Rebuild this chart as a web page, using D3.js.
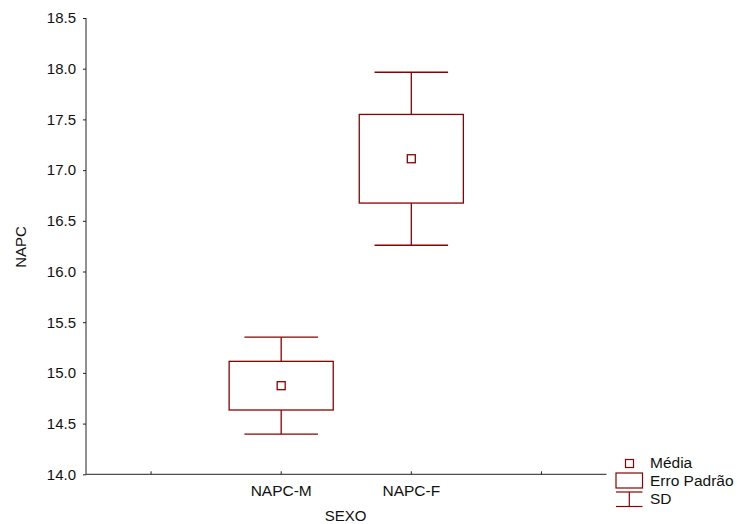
<!DOCTYPE html>
<html>
<head>
<meta charset="utf-8">
<script src="https://cdn.jsdelivr.net/npm/d3@7"></script>
<style>
  html, body { margin: 0; padding: 0; background: #fff; }
  svg { display: block; font-family: "Liberation Sans", Arial, sans-serif; }
</style>
</head>
<body>
<svg id="chart" width="737" height="524"></svg>
<script>
// ---- data ----
const slots = ["", "NAPC-M", "NAPC-F", " "];
const groups = ["NAPC-M", "NAPC-F"];
const means = [14.874, 17.112];
const stdErr = [0.24, 0.437];
const stdDev = [0.478, 0.853];
const yTicks = [14.0, 14.5, 15.0, 15.5, 16.0, 16.5, 17.0, 17.5, 18.0, 18.5];
const legendLabels = ["Média", "Erro Padrão", "SD"];
const xTitle = "SEXO";
const yTitle = "NAPC";

const color = "#8b0000";
const svg = d3.select("#chart");

const x = d3.scaleBand().domain(slots).range([86, 606.5]).paddingInner(0).paddingOuter(0);
const y = d3.scaleLinear().domain([14, 18.5]).range([474.3, 18]);

// y axis
const yAxis = svg.append("g").attr("transform", "translate(86,0)")
  .call(d3.axisLeft(y).tickValues(yTicks).tickFormat(d3.format(".1f")).tickSize(3).tickPadding(7));
yAxis.select(".domain").attr("stroke", "#222").attr("d", `M0,${y(18.5)}V${y(14)}`);
yAxis.selectAll(".tick line").attr("stroke", "#222");
yAxis.selectAll("text").attr("font-size", 15).attr("fill", "#111");

// x axis
const xAxis = svg.append("g").attr("transform", `translate(0,${y(14)})`)
  .call(d3.axisBottom(x).tickSize(0).tickPadding(11));
xAxis.select(".domain").attr("stroke", "#222").attr("d", `M86,0H606.5`);
xAxis.selectAll("text").attr("font-size", 15.5).attr("fill", "#111");
xAxis.selectAll(".tick").append("line")
  .attr("y1", 0).attr("y2", -3).attr("stroke", "#222");

// axis titles
svg.append("text").attr("x", 345.5).attr("y", 521).attr("text-anchor", "middle")
  .attr("font-size", 15).attr("fill", "#111").text(xTitle);
svg.append("text").attr("transform", "translate(26,247) rotate(-90)")
  .attr("text-anchor", "middle").attr("font-size", 15).attr("fill", "#111").text(yTitle);

// boxes
const bw = x.bandwidth();
const boxW = bw * 0.8;
const capW = bw * 0.565;
const g = svg.append("g").attr("stroke", color).attr("fill", "none").attr("stroke-width", 1.3);
groups.forEach((k, i) => {
  const cx = x(k) + bw / 2;
  const m = means[i], se = stdErr[i], sd = stdDev[i];
  // whiskers
  g.append("line").attr("x1", cx).attr("x2", cx).attr("y1", y(m + sd)).attr("y2", y(m + se));
  g.append("line").attr("x1", cx).attr("x2", cx).attr("y1", y(m - se)).attr("y2", y(m - sd));
  g.append("line").attr("x1", cx - capW / 2).attr("x2", cx + capW / 2).attr("y1", y(m + sd)).attr("y2", y(m + sd));
  g.append("line").attr("x1", cx - capW / 2).attr("x2", cx + capW / 2).attr("y1", y(m - sd)).attr("y2", y(m - sd));
  // SE box
  g.append("rect").attr("x", cx - boxW / 2).attr("width", boxW)
    .attr("y", y(m + se)).attr("height", y(m - se) - y(m + se)).attr("fill", "#fff");
  // mean marker
  g.append("rect").attr("x", cx - 4).attr("y", y(m) - 4).attr("width", 8).attr("height", 8).attr("fill", "#fff");
});

// legend
const lg = svg.append("g");
const ls = lg.append("g").attr("stroke", color).attr("fill", "none").attr("stroke-width", 1.2);
ls.append("rect").attr("x", 625.5).attr("y", 459.5).attr("width", 8).attr("height", 8).attr("fill", "#fff");
ls.append("rect").attr("x", 616).attr("y", 473).attr("width", 26.5).attr("height", 15);
ls.append("line").attr("x1", 616).attr("x2", 642.5).attr("y1", 492).attr("y2", 492);
ls.append("line").attr("x1", 616).attr("x2", 642.5).attr("y1", 506.5).attr("y2", 506.5);
ls.append("line").attr("x1", 629.3).attr("x2", 629.3).attr("y1", 492).attr("y2", 506.5);
const ly = [467.5, 486, 504];
legendLabels.forEach((t, i) => {
  lg.append("text").attr("x", 650).attr("y", ly[i]).attr("font-size", 15.5).attr("fill", "#111").text(t);
});
</script>
</body>
</html>
